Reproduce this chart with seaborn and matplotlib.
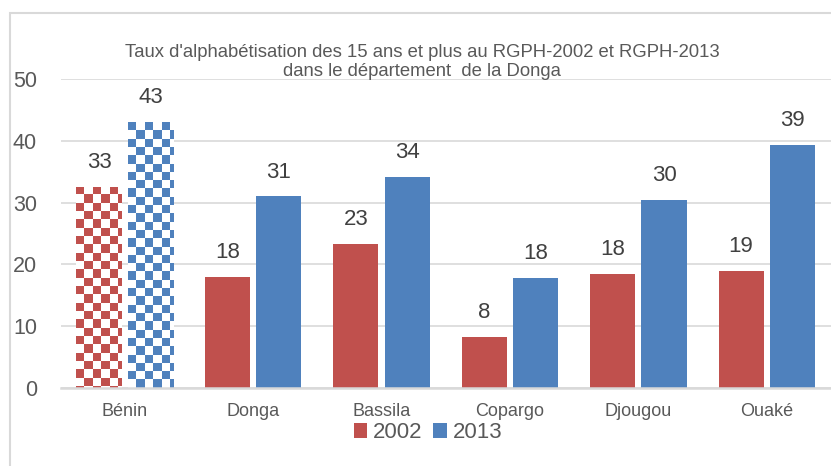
import numpy as np
import pandas as pd
import seaborn as sns
import matplotlib.pyplot as plt
from matplotlib.colors import ListedColormap
from matplotlib.patches import Rectangle

## données
zones = ["Bénin", "Donga", "Bassila", "Copargo", "Djougou", "Ouaké"]
annees = ["2002", "2013"]
taux_2002 = [32.6, 18.0, 23.3, 8.2, 18.5, 18.9]
taux_2013 = [43.1, 31.0, 34.2, 17.8, 30.4, 39.4]
titre = ("Taux d'alphabétisation des 15 ans et plus au RGPH-2002 et RGPH-2013\n"
         "dans le département  de la Donga")

rouge, bleu = "#C0504D", "#4F81BD"
gris_texte = "#595959"
gris_ligne = "#D9D9D9"

df = pd.DataFrame({
    "zone": zones * 2,
    "annee": [annees[0]] * len(zones) + [annees[1]] * len(zones),
    "taux": taux_2002 + taux_2013,
})

sns.set_style("white")
plt.rcParams["font.family"] = ["Liberation Sans", "DejaVu Sans"]

fig = plt.figure(figsize=(8.31, 4.66), dpi=100)
ax = fig.add_axes([60.5 / 831, 78.3 / 466, 1 - 60.5 / 831, (387.7 - 79.3) / 466])

sns.barplot(data=df, x="zone", y="taux", hue="annee", palette=[rouge, bleu],
            saturation=1, width=0.8, gap=0.12, linewidth=0, ax=ax)

ax.set_xlim(-0.5, len(zones) - 0.5)
ax.set_ylim(0, 50)
ax.set_yticks(range(0, 51, 10))
ax.set_xlabel("")
ax.set_ylabel("")
ax.set_axisbelow(True)
ax.yaxis.grid(True, color=gris_ligne, lw=1.2)
for s in ["left", "right", "top"]:
    ax.spines[s].set_visible(False)
ax.spines["bottom"].set_color(gris_ligne)
ax.spines["bottom"].set_linewidth(1.8)
ax.tick_params(axis="y", length=0, pad=17, labelsize=15.5, labelcolor=gris_texte)
ax.tick_params(axis="x", length=0, pad=11, labelsize=13, labelcolor=gris_texte)

# étiquettes de valeurs
for cont in ax.containers:
    ax.bar_label(cont, labels=[f"{v:.0f}" for v in cont.datavalues],
                 padding=10, fontsize=16, color="#404040")

# damier pour le Bénin
px_x = ax.bbox.width / (len(zones))
px_y = ax.bbox.height / 50
carre = 8.3
sx, sy = carre / px_x, carre / px_y
for cont, col in zip(ax.containers, [rouge, bleu]):
    p = cont.patches[0]
    x0, y0, w, h = p.get_x(), p.get_y(), p.get_width(), p.get_height()
    nx = int(np.ceil(w / sx))
    ny = int(np.ceil(h / sy))
    damier = np.indices((ny, nx)).sum(axis=0) % 2
    im = ax.imshow(damier, extent=(x0, x0 + nx * sx, y0 + h - ny * sy, y0 + h),
                   origin="upper", cmap=ListedColormap([col, "white"]),
                   aspect="auto", interpolation="nearest", zorder=2)
    im.set_clip_path(p)
    p.set_facecolor("none")

ax.set_xlim(-0.5, len(zones) - 0.5)
ax.set_ylim(0, 50)

# légende
handles, labels = ax.get_legend_handles_labels()
ax.legend(handles, labels, loc="center", bbox_to_anchor=(428 / 831, 1 - 433 / 466),
          bbox_transform=fig.transFigure, ncol=2, frameon=False,
          handlelength=0.6, handleheight=0.65, handletextpad=0.25,
          columnspacing=0.5, fontsize=16, labelcolor=gris_texte)

fig.text(422 / 831, 1 - 62 / 466, titre, ha="center", va="center",
         fontsize=13.3, color=gris_texte, linespacing=1.15)

# cadre du graphique
fig.add_artist(Rectangle((10 / 831, -0.1), 2, 1 - 12.7 / 466 + 0.1,
                         transform=fig.transFigure, fill=False,
                         edgecolor=gris_ligne, lw=1.5))

fig.savefig("out.png", dpi=100)
